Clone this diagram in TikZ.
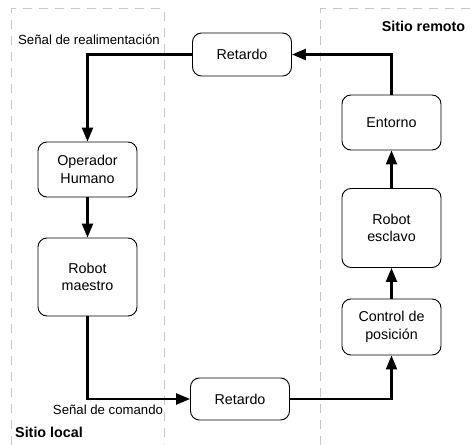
\documentclass[tikz,border=0pt]{standalone}
\usepackage{fontspec}
\setmainfont{Liberation Sans}
\usetikzlibrary{arrows.meta}

\begin{document}
\begin{tikzpicture}[x=1pt, y=1pt, >={Triangle[length=14pt, width=11pt]}]
      \tikzstyle{bloque} = [draw, line width=0.9pt, rounded corners=9pt, minimum width=99pt, align=center, font=\fontsize{14.3}{17.5}\selectfont]
      \tikzstyle{zona} = [draw=black!22, line width=1pt, dash pattern=on 9pt off 7pt]
      \tikzstyle{flecha} = [line width=2.3pt]
      \tikzstyle{etiqueta} = [font=\fontsize{13.2}{15}\selectfont, inner sep=0pt]
      \tikzstyle{sitio} = [font=\fontsize{14.3}{16}\selectfont\bfseries, inner sep=0pt]
      \useasboundingbox (0,0) rectangle (472,445);
      % zonas
      \draw[zona] (11,0) -- (11,436) -- (164,436) -- (164,0);
      \draw[zona] (320.5,0) -- (320.5,436) -- (472,436);
      \node[sitio] (local) at (49,13) {Sitio local};
      \node[sitio] (remoto) at (423.5,419) {Sitio remoto};
      % bloques
      \path
	node[bloque, minimum height=43pt] (ret1) at (242,390.5) {Retardo}
	node[bloque, minimum height=55pt] (op) at (87.5,275.5) {Operador\\Humano}
	node[bloque, minimum height=78pt] (rm) at (87.5,168) {Robot\\maestro}
	node[bloque, minimum height=42pt] (ret2) at (240,46) {Retardo}
	node[bloque, minimum height=56pt] (cp) at (391.5,118) {Control de\\posición}
	node[bloque, minimum height=79pt] (re) at (391.5,217) {Robot\\esclavo}
	node[bloque, minimum height=55pt] (ent) at (391.5,322.5) {Entorno}
	;
      % flechas
      \draw[flecha, ->] (ret1.west) -| (op.north);
      \draw[flecha, ->] (op) -- (rm);
      \draw[flecha, ->] (rm.south) |- (ret2.west);
      \draw[flecha, ->] (ret2.east) -| (cp.south);
      \draw[flecha, ->] (cp) -- (re);
      \draw[flecha, ->] (re) -- (ent);
      \draw[flecha, ->] (ent.north) |- (ret1.east);
      \node[etiqueta] (realim) at (89,405) {Señal de realimentación};
      \node[etiqueta] (comando) at (108,35) {Señal de comando};
    \end{tikzpicture}
\end{document}
